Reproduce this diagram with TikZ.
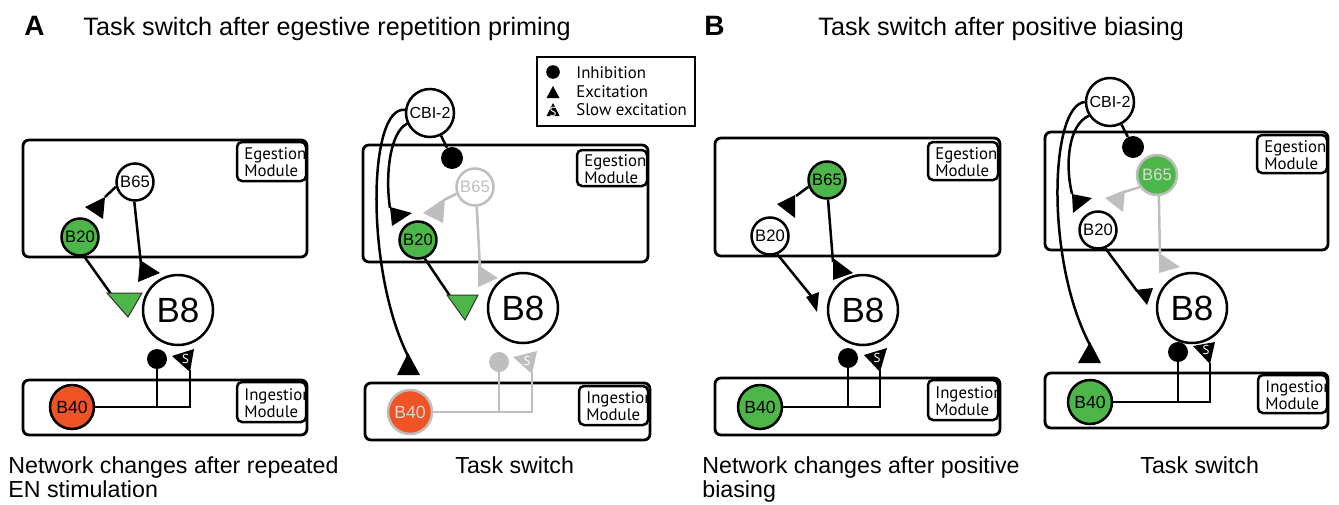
\documentclass[tikz,border=0pt]{standalone}
\usepackage{fontspec}
\setmainfont{Liberation Sans}
\newfontfamily\modfont{PT Sans}

\definecolor{nGreen}{RGB}{77,182,72}
\definecolor{nOrange}{RGB}{240,83,36}
\definecolor{fadeGray}{RGB}{190,190,190}

% filled synapse triangle: style, three corners
\newcommand\tri[4]{\fill[#1] (#2) -- (#3) -- (#4) -- cycle;}
% slow synapse: node name, colour, three corners, position of the S
\newcommand\slowsyn[6]{%
  \fill[#2] (#3) -- (#4) -- (#5) -- cycle;
  \node[stext] (#1) at (#6) {S};}
% module tag: name, x1, y1, x2, y2, text (clipped to its frame)
\newcommand\modtag[6]{%
  \begin{scope}
    \clip (#2,#3) rectangle (#4,#5);
    \node[tagtext,anchor=west] (#1) at ({#2+7},{(#3+#5)/2+1}) {#6};
  \end{scope}
  \draw[tagbox] (#2,#3) rectangle (#4,#5);}

\begin{document}
\begin{tikzpicture}[x=0.5pt,y=-0.5pt,
  neuron/.style={circle,draw=black,line width=1.25pt,fill=white,inner sep=0pt,
    minimum size=18.5pt,font=\fontsize{8.3}{9}\selectfont},
  bigcell/.style={neuron,minimum size=35pt,font=\fontsize{17.5}{19}\selectfont},
  cbi/.style={neuron,minimum size=24pt,font=\fontsize{8}{9}\selectfont},
  b40/.style={neuron,minimum size=22pt,font=\fontsize{8.8}{9}\selectfont},
  faded/.style={draw=fadeGray,text=fadeGray},
  inhib/.style={circle,fill=black,inner sep=0pt,minimum size=10pt},
  wire/.style={line width=1.25pt,draw=black},
  gwire/.style={line width=1.25pt,draw=fadeGray},
  module/.style={draw=black,line width=1.4pt,rounded corners=3pt},
  tagbox/.style={draw=black,line width=1.25pt,rounded corners=2.5pt},
  tagtext/.style={inner sep=0pt,align=left,font=\modfont\fontsize{8.4}{8.6}\selectfont},
  stext/.style={text=white,inner sep=0pt,font=\modfont\fontsize{6.5}{7}\selectfont},
  legtext/.style={anchor=base west,inner sep=0pt,font=\modfont\fontsize{8.4}{10}\selectfont},
  paneltag/.style={anchor=base west,inner sep=0pt,font=\bfseries\fontsize{14}{16}\selectfont},
  title/.style={anchor=base west,inner sep=0pt,font=\fontsize{12.6}{15}\selectfont},
  caption/.style={anchor=base west,inner sep=0pt,font=\fontsize{11.6}{14}\selectfont},
  greentri/.style={fill=nGreen,draw=black!80,line width=0.5pt}
]
\useasboundingbox (0,0) rectangle (1339,504);
\fill[white] (0,0) rectangle (1339,504);

% ---------------- headings ----------------
\node[paneltag] (tagA) at (24,35) {A};
\node[title] (titleA) at (83,35) {Task switch after egestive repetition priming};
\node[paneltag] (tagB) at (704,35) {B};
\node[title] (titleB) at (818,35) {Task switch after positive biasing};

% ---------------- legend ----------------
\draw[line width=1.25pt] (537,57) rectangle (695,126);
\node[inhib,minimum size=6.8pt] (lgI) at (553,72) {};
\tri{black}{546.5,98}{559.5,98}{553,86}
\slowsyn{lgS}{black}{546.5,116}{559.5,116}{553,103}{553,111.5}
\node[legtext] (lgT1) at (576,78) {Inhibition};
\node[legtext] (lgT2) at (576,97) {Excitation};
\node[legtext] (lgT3) at (576,115) {Slow excitation};

% ================= A, left: after repeated EN stimulation =================
\draw[module] (23,140) rectangle (307,257);
\modtag{aEgL}{237}{142}{306}{181}{Egestion\\Module}
\draw[module] (23,380) rectangle (307,435);
\modtag{aInL}{237}{382}{306}{422}{Ingestion\\Module}

\node[neuron] (aB65) at (135,182) {B65};
\node[neuron,fill=nGreen] (aB20) at (80,237) {B20};
\node[bigcell] (aB8) at (178,310) {B8};
\node[b40,fill=nOrange] (aB40) at (72,407) {B40};

\coordinate (aE1) at (105,197);
\draw[wire] (aB65.194) -- (aE1);
\tri{black}{85,207}{105,197}{103,219}
\coordinate (aE2) at (141,264);
\draw[wire] (aB65.-92) -- (aE2);
\tri{black}{140,260}{138,282}{160,273}
\coordinate (aE3) at (111,294);
\draw[wire] (aB20.-78) -- (aE3);
\tri{greentri}{107,293}{142,293}{128,317}

\node[inhib] (aI) at (157,359) {};
\coordinate (aJ1) at (157,407);
\coordinate (aJ2) at (190,407);
\coordinate (aS) at (190,370);
\draw[wire] (aB40) -- (aJ2) -- (aS);
\draw[wire] (aJ1) -- (aI);
\slowsyn{aSx}{black}{172,356}{194,349}{190,372}{185.5,358.5}

% ================= A, right: task switch =================
\draw[module] (363,145) rectangle (648,262);
\modtag{bEgL}{577}{150}{647}{186}{Egestion\\Module}
\draw[module] (365,383) rectangle (650,440);
\modtag{bInL}{579}{386}{648}{425}{Ingestion\\Module}

\node[cbi] (bCBI) at (430,113) {CBI-2};
\node[inhib,minimum size=11pt] (bI1) at (452,158) {};
\draw[wire] (bCBI) -- (bI1);

\node[neuron,faded] (bB65) at (475,187) {B65};
\node[neuron,fill=nGreen] (bB20) at (418,240) {B20};
\node[bigcell] (bB8) at (523,308) {B8};
\node[b40,fill=nOrange,draw=fadeGray,text=black!15] (bB40) at (410,412) {B40};

\coordinate (bE1) at (444,200);
\draw[gwire] (bB65.200) -- (bE1);
\tri{fadeGray}{423,213}{445,198}{443,223}
\coordinate (bE2) at (390,208);
\draw[wire] (bCBI.205) .. controls (390,132) and (385,175) .. (bE2);
\tri{black}{390,207}{392,226}{412,213}
\coordinate (bE3) at (450,296);
\draw[wire] (bB20.-70) -- (bE3);
\tri{greentri}{447,295}{478,295}{465,320}
\coordinate (bE4) at (480,268);
\draw[gwire] (bB65.-85) -- (bE4);
\tri{fadeGray}{478,265}{478,287}{498,278}
\coordinate (bE5) at (408,356);
\draw[wire] (bCBI.173) .. controls (368,105) and (365,270) .. (bE5);
\tri{black}{397,375}{420,375}{408,353}

\node[inhib,fill=fadeGray] (bI2) at (499,362) {};
\coordinate (bJ1) at (499,412);
\coordinate (bJ2) at (532,412);
\coordinate (bS) at (532,372);
\draw[gwire] (bB40) -- (bJ2) -- (bS);
\draw[gwire] (bJ1) -- (bI2);
\slowsyn{bSx}{fadeGray}{513,357}{537,351}{532,374}{527,361}

% ================= B, left: after positive biasing =================
\draw[module] (715,138) rectangle (1000,256);
\modtag{cEgL}{928}{142}{998}{180}{Egestion\\Module}
\draw[module] (715,378) rectangle (1000,435);
\modtag{cInL}{928}{380}{998}{420}{Ingestion\\Module}

\node[neuron,fill=nGreen] (cB65) at (827,180) {B65};
\node[neuron] (cB20) at (770,236) {B20};
\node[bigcell] (cB8) at (863,310) {B8};
\node[b40,fill=nGreen] (cB40) at (760,407) {B40};

\coordinate (cE1) at (796,196);
\draw[wire] (cB65.200) -- (cE1);
\tri{black}{777,204}{795,195}{795,218}
\coordinate (cE2) at (812,297);
\draw[wire] (cB20.-68) -- (cE2);
\tri{black}{806,297}{819,292}{817,312}
\coordinate (cE3) at (833,262);
\draw[wire] (cB65.-87) -- (cE3);
\tri{black}{833,258}{833,280}{853,273}

\node[inhib] (cI) at (848,358) {};
\coordinate (cJ1) at (848,407);
\coordinate (cJ2) at (880,407);
\coordinate (cS) at (880,370);
\draw[wire] (cB40) -- (cJ2) -- (cS);
\draw[wire] (cJ1) -- (cI);
\slowsyn{cSx}{black}{864,355}{887,348}{880,372}{877,358}

% ================= B, right: task switch =================
\draw[module] (1045,132) rectangle (1328,250);
\modtag{dEgL}{1257}{135}{1327}{173}{Egestion\\Module}
\draw[module] (1045,373) rectangle (1328,428);
\modtag{dInL}{1258}{375}{1327}{413}{Ingestion\\Module}

\node[cbi] (dCBI) at (1110,102) {CBI-2};
\node[inhib,minimum size=11pt] (dI1) at (1133,147) {};
\draw[wire] (dCBI) -- (dI1);

\node[neuron,fill=nGreen,draw=fadeGray,text=black!15,minimum size=20pt] (dB65) at (1157,175) {B65};
\node[neuron] (dB20) at (1098,230) {B20};
\node[bigcell] (dB8) at (1192,308) {B8};
\node[b40,fill=nGreen] (dB40) at (1090,402) {B40};

\coordinate (dE1) at (1124,192);
\draw[gwire] (dB65.215) -- (dE1);
\tri{fadeGray}{1105,198}{1125,190}{1123,212}
\coordinate (dE2) at (1072,194);
\draw[wire] (dCBI.213) .. controls (1068,125) and (1065,165) .. (dE2);
\tri{black}{1072,194}{1073,213}{1092,198}
\coordinate (dE3) at (1137,291);
\draw[wire] (dB20.-68) -- (dE3);
\tri{black}{1135,290}{1153,288}{1147,305}
\coordinate (dE4) at (1160,257);
\draw[gwire] (dB65.-85) -- (dE4);
\tri{fadeGray}{1159,253}{1159,273}{1180,267}
\coordinate (dE5) at (1090,345);
\draw[wire] (dCBI.180) .. controls (1050,105) and (1045,260) .. (dE5);
\tri{black}{1078,363}{1101,363}{1090,342}

\node[inhib] (dI2) at (1178,352) {};
\coordinate (dJ1) at (1178,402);
\coordinate (dJ2) at (1210,402);
\coordinate (dS) at (1210,363);
\draw[wire] (dB40) -- (dJ2) -- (dS);
\draw[wire] (dJ1) -- (dI2);
\slowsyn{dSx}{black}{1193,346}{1215,342}{1210,364}{1206,350}

% ---------------- captions ----------------
\node[caption] (capA1) at (8,473) {Network changes after repeated};
\node[caption] (capA2) at (8,497) {EN stimulation};
\node[caption] (capA3) at (455,473) {Task switch};
\node[caption] (capB1) at (702,473) {Network changes after positive};
\node[caption] (capB2) at (702,497) {biasing};
\node[caption] (capB3) at (1140,473) {Task switch};
\end{tikzpicture}
\end{document}
